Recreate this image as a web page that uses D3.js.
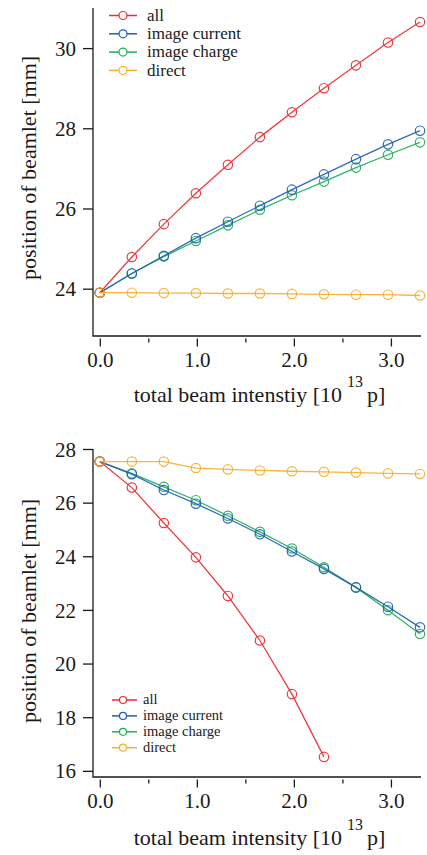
<!DOCTYPE html>
<html>
<head>
<meta charset="utf-8">
<script src="https://cdn.jsdelivr.net/npm/d3@7"></script>
<style>
  html, body { margin: 0; padding: 0; background: #fff; }
  svg { display: block; font-family: "Liberation Serif", "Times New Roman", serif; }
</style>
</head>
<body>
<svg id="chart" width="427" height="855"></svg>
<script>
// total beam intensity [10^13 p]
const intensity = [0, 0.33, 0.66, 0.99, 1.32, 1.65, 1.98, 2.31, 2.64, 2.97, 3.3];

// upper panel: beamlet position [mm]
const allTop      = [23.90, 24.79, 25.61, 26.38, 27.09, 27.78, 28.40, 29.00, 29.57, 30.14, 30.65];
const curTop      = [23.90, 24.38, 24.82, 25.26, 25.67, 26.07, 26.47, 26.85, 27.23, 27.60, 27.94];
const chgTop      = [23.90, 24.38, 24.80, 25.19, 25.58, 25.97, 26.33, 26.67, 27.02, 27.34, 27.65];
const directTop   = [23.90, 23.90, 23.89, 23.89, 23.88, 23.88, 23.87, 23.86, 23.85, 23.85, 23.83];

// lower panel: beamlet position [mm]
const allBot      = [27.53, 26.56, 25.24, 23.96, 22.52, 20.86, 18.86, 16.52];
const curBot      = [27.53, 27.06, 26.47, 25.96, 25.41, 24.82, 24.18, 23.53, 22.84, 22.12, 21.35];
const chgBot      = [27.53, 27.09, 26.59, 26.09, 25.51, 24.91, 24.29, 23.59, 22.84, 21.99, 21.10];
const directBot   = [27.53, 27.53, 27.53, 27.29, 27.24, 27.20, 27.17, 27.15, 27.12, 27.09, 27.07];

const seriesNames = ["all", "image current", "image charge", "direct"];
const seriesColors = ["#ee2a30", "#1e5fb0", "#1fae58", "#f7ae2c"];

const xTicks = [0, 1, 2, 3];
const xMinorTicks = [0.5, 1.5, 2.5];
const yTicksTop = [24, 26, 28, 30];
const yTicksBot = [16, 18, 20, 22, 24, 26, 28];

const svg = d3.select("#chart");
const ink = "#1a1a1a";

function panel(cfg) {
  const g = svg.append("g");
  const x = d3.scaleLinear().domain([-0.07, 3.31]).range([93, 421]);
  const y = d3.scaleLinear().domain(cfg.yDomain).range([cfg.bottom, cfg.top]);

  // L-shaped frame
  g.append("path")
    .attr("d", `M${x.range()[0]},${cfg.axisTop} V${cfg.bottom} H${x.range()[1]}`)
    .attr("fill", "none").attr("stroke", ink).attr("stroke-width", 1.3);

  // y axis ticks and labels
  const ya = g.append("g").attr("transform", `translate(${x.range()[0]},0)`)
    .call(d3.axisLeft(y).tickValues(cfg.yTicks).tickFormat(d3.format("d"))
      .tickSize(10).tickPadding(7).tickSizeOuter(0));
  ya.select(".domain").remove();
  ya.selectAll("line").attr("stroke", ink).attr("stroke-width", 1.3);
  ya.selectAll("text").attr("fill", ink).attr("font-size", 21)
    .attr("font-family", "Liberation Serif").attr("dy", "0.34em");

  // x axis ticks, set just below the frame
  const xa = g.append("g").attr("transform", `translate(0,${cfg.bottom + 2.5})`)
    .call(d3.axisBottom(x).tickValues(xTicks).tickFormat(d3.format(".1f"))
      .tickSize(8).tickSizeOuter(0));
  xa.select(".domain").remove();
  xa.selectAll("line").attr("stroke", ink).attr("stroke-width", 1.3);
  xa.selectAll("text").attr("fill", ink).attr("font-size", 21)
    .attr("font-family", "Liberation Serif").attr("y", 28.5).attr("dy", 0);

  const xm = g.append("g").attr("transform", `translate(0,${cfg.bottom + 2.5})`)
    .call(d3.axisBottom(x).tickValues(xMinorTicks).tickFormat("").tickSize(4).tickSizeOuter(0));
  xm.select(".domain").remove();
  xm.selectAll("line").attr("stroke", ink).attr("stroke-width", 1.3);

  // y title
  g.append("text")
    .attr("transform", `translate(36,${cfg.yTitleMid}) rotate(-90)`)
    .attr("text-anchor", "middle").attr("font-size", 22).attr("fill", ink)
    .text("position of beamlet [mm]");

  // x title with raised exponent between "10" and "p]"
  const base = cfg.bottom + cfg.xTitleOffset;
  const t = g.append("text").attr("font-size", 22).attr("fill", ink).attr("y", base)
    .text(cfg.xTitle);
  const w1 = t.node().getComputedTextLength();
  const gap = 25;
  const tmp = g.append("text").attr("font-size", 22).text("p]");
  const w2 = tmp.node().getComputedTextLength();
  tmp.remove();
  const total = w1 + gap + w2;
  const x0 = 259.5 - total / 2;
  t.attr("x", x0);
  g.append("text").attr("font-size", 22).attr("fill", ink)
    .attr("x", x0 + w1 + gap).attr("y", base).text("p]");
  g.append("text").attr("font-size", 16).attr("fill", ink)
    .attr("x", x0 + w1 + 5).attr("y", base - 15).text("13");

  // data series
  const line = d3.line().x((d, i) => x(intensity[i])).y(d => y(d));
  const order = [2, 1, 0, 3];
  order.forEach(k => {
    const vals = cfg.series[k];
    const s = g.append("g").attr("stroke", seriesColors[k]).attr("fill", "none")
      .attr("stroke-opacity", 0.92);
    s.append("path").attr("d", line(vals)).attr("stroke-width", 1.3);
    s.selectAll("circle").data(vals).join("circle")
      .attr("cx", (d, i) => x(intensity[i])).attr("cy", d => y(d))
      .attr("r", 4.7).attr("stroke-width", 1.2);
  });

  // legend
  const lg = g.append("g");
  seriesNames.forEach((name, k) => {
    const ly = cfg.legend.y0 + k * cfg.legend.dy;
    lg.append("line").attr("x1", cfg.legend.x1).attr("x2", 137).attr("y1", ly).attr("y2", ly)
      .attr("stroke", seriesColors[k]).attr("stroke-width", 1.5);
    lg.append("circle").attr("cx", 123).attr("cy", ly).attr("r", cfg.legend.r)
      .attr("fill", "#fff").attr("stroke", seriesColors[k]).attr("stroke-width", 1.2);
    lg.append("text").attr("x", cfg.legend.tx).attr("y", ly + cfg.legend.fs * 0.3)
      .attr("font-size", cfg.legend.fs).attr("fill", ink).text(name);
  });
}

panel({
  yDomain: [22.82, 31.0], top: 8, bottom: 336, axisTop: 8,
  yTicks: yTicksTop, yTitleMid: 168, xTitleOffset: 66,
  xTitle: "total beam intenstiy [10",
  series: [allTop, curTop, chgTop, directTop],
  legend: { x1: 109, y0: 15.5, dy: 18.3, tx: 147, r: 4, fs: 17 }
});

panel({
  yDomain: [15.77, 28.0], top: 449, bottom: 777, axisTop: 449,
  yTicks: yTicksBot, yTitleMid: 611, xTitleOffset: 68,
  xTitle: "total beam intensity [10",
  series: [allBot, curBot, chgBot, directBot],
  legend: { x1: 112, y0: 700, dy: 15.9, tx: 143, r: 3.5, fs: 14.5 }
});
</script>
</body>
</html>
